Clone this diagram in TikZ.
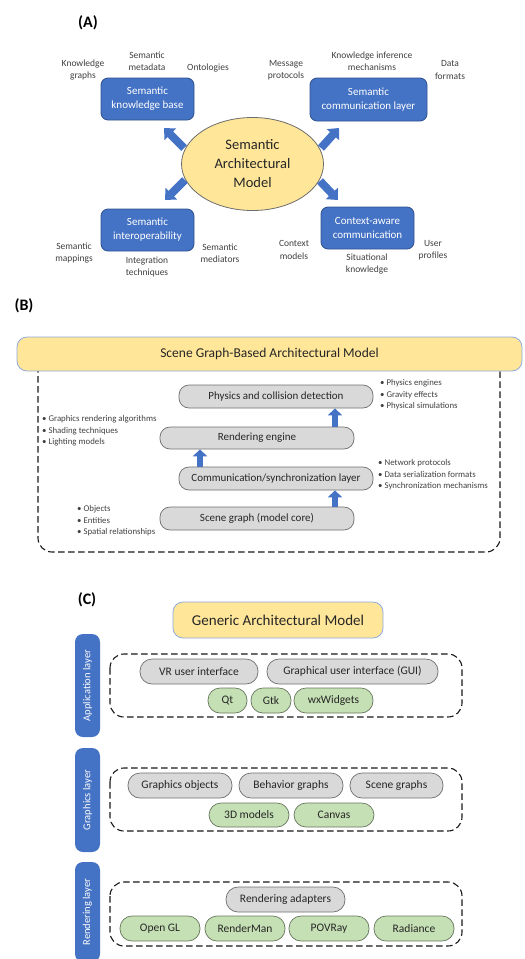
\documentclass[tikz,border=0pt]{standalone}
\usepackage{fontspec}
\setmainfont{Carlito}
\usetikzlibrary{arrows.meta,shapes.geometric}
\definecolor{myblue}{HTML}{4472C4}
\definecolor{mybluedark}{HTML}{2F528F}
\definecolor{mygray}{HTML}{D9D9D9}
\definecolor{mygrayline}{HTML}{6E6E6E}
\definecolor{mygreen}{HTML}{C5E0B4}
\definecolor{mygreenline}{HTML}{66765E}
\definecolor{myyellow}{HTML}{FFE699}
\definecolor{myyellowline}{HTML}{8FAADC}
\definecolor{mytext}{HTML}{262626}
\definecolor{mylbl}{HTML}{404040}
\tikzset{
  fs/.style 2 args={font=\fontsize{#1}{#2}\selectfont},
  bluebox/.style={fill=myblue, draw=mybluedark, line width=0.8pt, rounded corners=7pt,
    text=white, align=center, inner sep=0pt, fs={11}{14}},
  lbl/.style={align=center, text=mylbl, inner sep=0pt, fs={9.5}{12.2}},
  bullets/.style={align=left, text=mylbl, inner sep=0pt, anchor=west, fs={8.8}{11.5}},
  graybox/.style={fill=mygray, draw=mygrayline, line width=0.7pt, rounded corners=10pt,
    text=mytext, inner sep=0pt, fs={11}{13}},
  pill/.style={fill=mygray, draw=mygrayline, line width=0.7pt, rounded corners=12pt,
    text=mytext, inner sep=0pt, fs={11.5}{13}},
  gpill/.style={pill, fill=mygreen, draw=mygreenline},
  titlebox/.style={fill=myyellow, draw=myyellowline, line width=0.8pt, rounded corners=10pt,
    text=mytext, inner sep=0pt},
  dashbox/.style={draw=black!90, line width=1.1pt, dash pattern=on 6.5pt off 3.5pt, rounded corners=14pt},
  tab/.style={fill=myblue, draw=none, rounded corners=8pt, text=white, inner sep=0pt,
    minimum height=25pt, rotate=90, fs={10.5}{12}},
  panel/.style={font=\fontsize{16}{18}\selectfont\bfseries, text=black, inner sep=0pt},
  bigarrow/.style={draw=myblue, line width=8pt, -{Triangle[length=9pt,width=16pt]}, color=myblue},
  smarrow/.style={draw=myblue, line width=6.5pt, -{Triangle[length=7pt,width=14pt]}, color=myblue},
}
\begin{document}
\begin{tikzpicture}[x=1pt,y=-1pt]
\useasboundingbox (0,0) rectangle (525,959);

% ---------------- (A)
\node[panel] (pa) at (88,23) {(A)};
\node[ellipse, fill=myyellow, draw=gray!85!black, line width=0.8pt, minimum width=142pt, minimum height=93pt,
  inner sep=0pt, align=center, text=mytext, fs={14.5}{19}] (ell) at (252.5,164) {Semantic\\Architectural\\Model};
\node[bluebox, minimum width=93pt, minimum height=42pt] (kb) at (147.5,99) {Semantic\\knowledge base};
\node[bluebox, minimum width=117pt, minimum height=43pt] (scl) at (368.5,99.5) {Semantic\\communication layer};
\node[bluebox, minimum width=93pt, minimum height=42pt] (si) at (147.5,230) {Semantic\\interoperability};
\node[bluebox, minimum width=93pt, minimum height=42pt] (caw) at (367.5,228) {Context-aware\\communication};

\node[lbl] (l1) at (83,70) {Knowledge\\graphs};
\node[lbl] (l2) at (147,61) {Semantic\\metadata};
\node[lbl] (l3) at (208,68) {Ontologies};
\node[lbl] (l4) at (286,70.5) {Message\\protocols};
\node[lbl] (l5) at (372,61) {Knowledge inference\\mechanisms};
\node[lbl] (l6) at (450,70) {Data\\formats};
\node[lbl] (l7) at (74,253) {Semantic\\mappings};
\node[lbl] (l8) at (147,267) {Integration\\techniques};
\node[lbl] (l9) at (220,253) {Semantic\\mediators};
\node[lbl] (l10) at (294,250) {Context\\models};
\node[lbl] (l11) at (367,264) {Situational\\knowledge};
\node[lbl] (l12) at (433,250) {User\\profiles};

\coordinate (a1s) at (184,148); \coordinate (a1e) at (164,128);
\coordinate (a2s) at (321,148); \coordinate (a2e) at (339,128);
\coordinate (a3s) at (185,180); \coordinate (a3e) at (165,200);
\coordinate (a4s) at (320,181); \coordinate (a4e) at (338,200);
\draw[bigarrow] (a1s) -- (a1e);
\draw[bigarrow] (a2s) -- (a2e);
\draw[bigarrow] (a3s) -- (a3e);
\draw[bigarrow] (a4s) -- (a4e);

% ---------------- (B)
\node[panel] (pb) at (24,306) {(B)};
\draw[dashbox] (38,352) rectangle (500,552);
\node[titlebox, minimum width=505pt, minimum height=34pt, fs={13.5}{16}] (sgt) at (269.5,354) {Scene Graph-Based Architectural Model};

\node[graybox, minimum width=194pt, minimum height=23pt] (phys) at (276,396.5) {Physics and collision detection};
\node[graybox, minimum width=194pt, minimum height=22pt] (rend) at (257,438) {Rendering engine};
\node[graybox, minimum width=194pt, minimum height=23pt] (comm) at (276,478.5) {Communication/synchronization layer};
\node[graybox, minimum width=194pt, minimum height=23pt] (sg) at (257,518.5) {Scene graph (model core)};

\draw[smarrow] ([xshift=78pt]sg.north) -- ([xshift=59pt]comm.south);
\draw[smarrow] ([xshift=-76pt]comm.north) -- ([xshift=-57pt]rend.south);
\draw[smarrow] ([xshift=78pt]rend.north) -- ([xshift=59pt]phys.south);

\node[bullets] (bl1) at (380,395) {• Physics engines\\• Gravity effects\\• Physical simulations};
\node[bullets] (bl2) at (42,431) {• Graphics rendering algorithms\\• Shading techniques\\• Lighting models};
\node[bullets] (bl3) at (378,475) {• Network protocols\\• Data serialization formats\\• Synchronization mechanisms};
\node[bullets] (bl4) at (77,521) {• Objects\\• Entities\\• Spatial relationships};

% ---------------- (C)
\node[panel] (pc) at (87,600) {(C)};
\node[titlebox, minimum width=210pt, minimum height=36pt, fs={15}{18}] (gam) at (278,620) {Generic Architectural Model};

\node[tab, minimum width=103pt] (tapp) at (87.5,685.5) {Application layer};
\node[tab, minimum width=104pt] (tgfx) at (87.5,800) {Graphics layer};
\node[tab, minimum width=100pt] (tren) at (87.5,912) {Rendering layer};

\draw[dashbox] (110,654) rectangle (462,717);
\draw[dashbox] (110,768) rectangle (462,831);
\draw[dashbox] (110,882) rectangle (462,946);

\node[pill, minimum width=118pt, minimum height=25pt] (vr) at (199,671.5) {VR user interface};
\node[pill, minimum width=171pt, minimum height=25pt] (gui) at (352.5,671.5) {Graphical user interface (GUI)};
\node[gpill, minimum width=39pt, minimum height=25pt] (qt) at (227.5,700.5) {Qt};
\node[gpill, minimum width=40pt, minimum height=25pt] (gtk) at (271,700.5) {Gtk};
\node[gpill, minimum width=79pt, minimum height=25pt] (wx) at (333.5,700.5) {wxWidgets};

\node[pill, minimum width=104pt, minimum height=25pt] (go) at (180,785.5) {Graphics objects};
\node[pill, minimum width=104pt, minimum height=25pt] (bg) at (291,785.5) {Behavior graphs};
\node[pill, minimum width=93pt, minimum height=25pt] (scg) at (396.5,785.5) {Scene graphs};
\node[gpill, minimum width=80pt, minimum height=24pt] (tdm) at (249,815) {3D models};
\node[gpill, minimum width=80pt, minimum height=24pt] (cv) at (334,815) {Canvas};

\node[pill, minimum width=119pt, minimum height=25pt] (ra) at (285.5,899.5) {Rendering adapters};
\node[gpill, minimum width=80pt, minimum height=25pt] (ogl) at (160,928.5) {Open GL};
\node[gpill, minimum width=80pt, minimum height=25pt] (rm) at (245,928.5) {RenderMan};
\node[gpill, minimum width=80pt, minimum height=25pt] (pov) at (329,928.5) {POVRay};
\node[gpill, minimum width=80pt, minimum height=25pt] (rad) at (414,928.5) {Radiance};
\end{tikzpicture}
\end{document}
